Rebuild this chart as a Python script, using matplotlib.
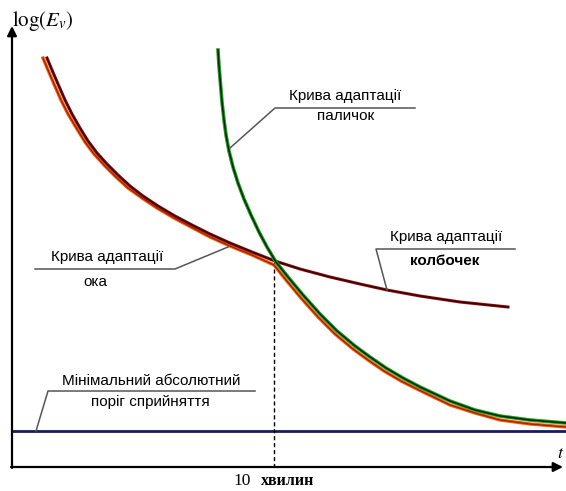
import matplotlib
matplotlib.use("Agg")
import matplotlib.pyplot as plt

# curve samples in plot units (x grows right, y grows down like the sheet)
cone_x = [47, 52, 58, 65, 72, 80, 88, 97, 107, 118, 130, 143, 158, 175, 192, 210,
          230, 252, 275, 300, 330, 360, 387, 420, 460, 508]
cone_y = [58, 70, 84, 100, 114, 128, 141, 153, 164, 175, 186, 196, 206, 216, 225, 234,
          243, 252, 261, 269, 277, 284, 290, 296, 302, 307]

rod_x = [218, 219, 220.5, 222, 224, 226, 229, 233, 238, 244, 251, 259, 267, 276, 288,
         303, 320, 337, 355, 370, 386, 403, 420, 450, 475, 500, 530, 566]
rod_y = [50, 66, 84, 102, 120, 135, 151, 167, 183, 199, 215, 232, 247, 262, 277,
         295, 314, 331, 346, 357, 368, 378, 387, 401, 410, 416, 420, 423]

eye_x = [43, 48, 54, 61, 68, 77, 85, 94, 105, 116, 128, 142, 157, 174, 191, 210, 230,
         252, 274, 286, 301, 318, 335, 353, 368, 384, 401, 419, 450, 475, 500, 530, 566]
eye_y = [58, 70, 84, 100, 114, 129, 142, 154, 166, 177, 188, 198, 208, 218, 227, 237,
         246, 255, 265, 280, 298, 317, 334, 349, 360, 371, 381, 390, 405, 413, 420, 424, 427]

threshold = 431
ten_minutes = 274
origin = (12, 467)

labels = {
    "rod": ("Крива адаптації", "паличок"),
    "cone": ("Крива адаптації", "колбочек"),
    "eye": ("Крива адаптації", "ока"),
    "min": ("Мінімальний абсолютний", "поріг сприйняття"),
}

sans = "Liberation Sans"
fs = 11

fig = plt.figure(figsize=(5.66, 4.91), dpi=100)
ax = fig.add_axes([0, 0, 1, 1])
ax.set_xlim(0, 566)
ax.set_ylim(491, 0)
ax.axis("off")

# axes with arrows
ax.annotate("", xy=(563, origin[1]), xytext=(origin[0] - 1, origin[1]),
            arrowprops=dict(arrowstyle="-|>", color="black", lw=1.6,
                            mutation_scale=14, shrinkA=0, shrinkB=0))
ax.annotate("", xy=(origin[0], 26), xytext=(origin[0], origin[1] + 1),
            arrowprops=dict(arrowstyle="-|>", color="black", lw=1.6,
                            mutation_scale=14, shrinkA=0, shrinkB=0))
ax.text(12, 21, r"$\mathrm{log}\left(E_v\right)$", fontsize=15,
        math_fontfamily="stix", va="center", ha="left")
ax.text(557, 453, r"$t$", fontsize=13, math_fontfamily="stix", va="center", ha="left")

# minimum threshold
ax.plot([origin[0], 566], [threshold, threshold], color="#1a1a5e", lw=2)

# 10 minutes marker
ax.plot([ten_minutes, ten_minutes], [262, origin[1]], color="black", lw=1,
        ls=(0, (3, 2)))
ax.text(233, 481, "10", fontsize=12.5, family="Liberation Serif",
        va="center", ha="left")
ax.text(261, 481, "хвилин", fontsize=11.5, family="Liberation Serif",
        fontweight="bold", va="center", ha="left")

# curves
ax.plot(eye_x, eye_y, color="#e8650a", lw=2.4, solid_joinstyle="round")
ax.plot(eye_x, eye_y, color="#b01800", lw=0.9, solid_joinstyle="round")
ax.plot(cone_x, cone_y, color="#8a1010", lw=2.2, solid_joinstyle="round")
ax.plot(cone_x, cone_y, color="#3a0000", lw=1.0, solid_joinstyle="round")
ax.plot(rod_x, rod_y, color="#22a022", lw=2.6, solid_joinstyle="round")
ax.plot(rod_x, rod_y, color="#002800", lw=1.1, solid_joinstyle="round")

# callouts
lead = dict(color="#555555", lw=1.1)

ax.plot([230, 275, 415], [148, 108, 108], **lead)
ax.text(345, 96, labels["rod"][0], fontsize=fs, family=sans, ha="center", va="center")
ax.text(346, 116, labels["rod"][1], fontsize=fs, family=sans, ha="center", va="center")

ax.plot([387, 376, 515], [290, 249, 249], **lead)
ax.text(446, 237, labels["cone"][0], fontsize=fs, family=sans, ha="center", va="center")
ax.text(445, 261, labels["cone"][1], fontsize=fs, family=sans, fontweight="bold",
        ha="center", va="center")

ax.plot([35, 175, 228], [269, 269, 247], **lead)
ax.text(107, 257, labels["eye"][0], fontsize=fs, family=sans, ha="center", va="center")
ax.text(95, 282, labels["eye"][1], fontsize=fs, family=sans, ha="center", va="center")

ax.plot([36, 48, 255], [431, 391, 391], **lead)
ax.text(151, 381, labels["min"][0], fontsize=fs, family=sans, ha="center", va="center")
ax.text(150, 402, labels["min"][1], fontsize=fs, family=sans, ha="center", va="center")

fig.savefig("out.png", dpi=100)
